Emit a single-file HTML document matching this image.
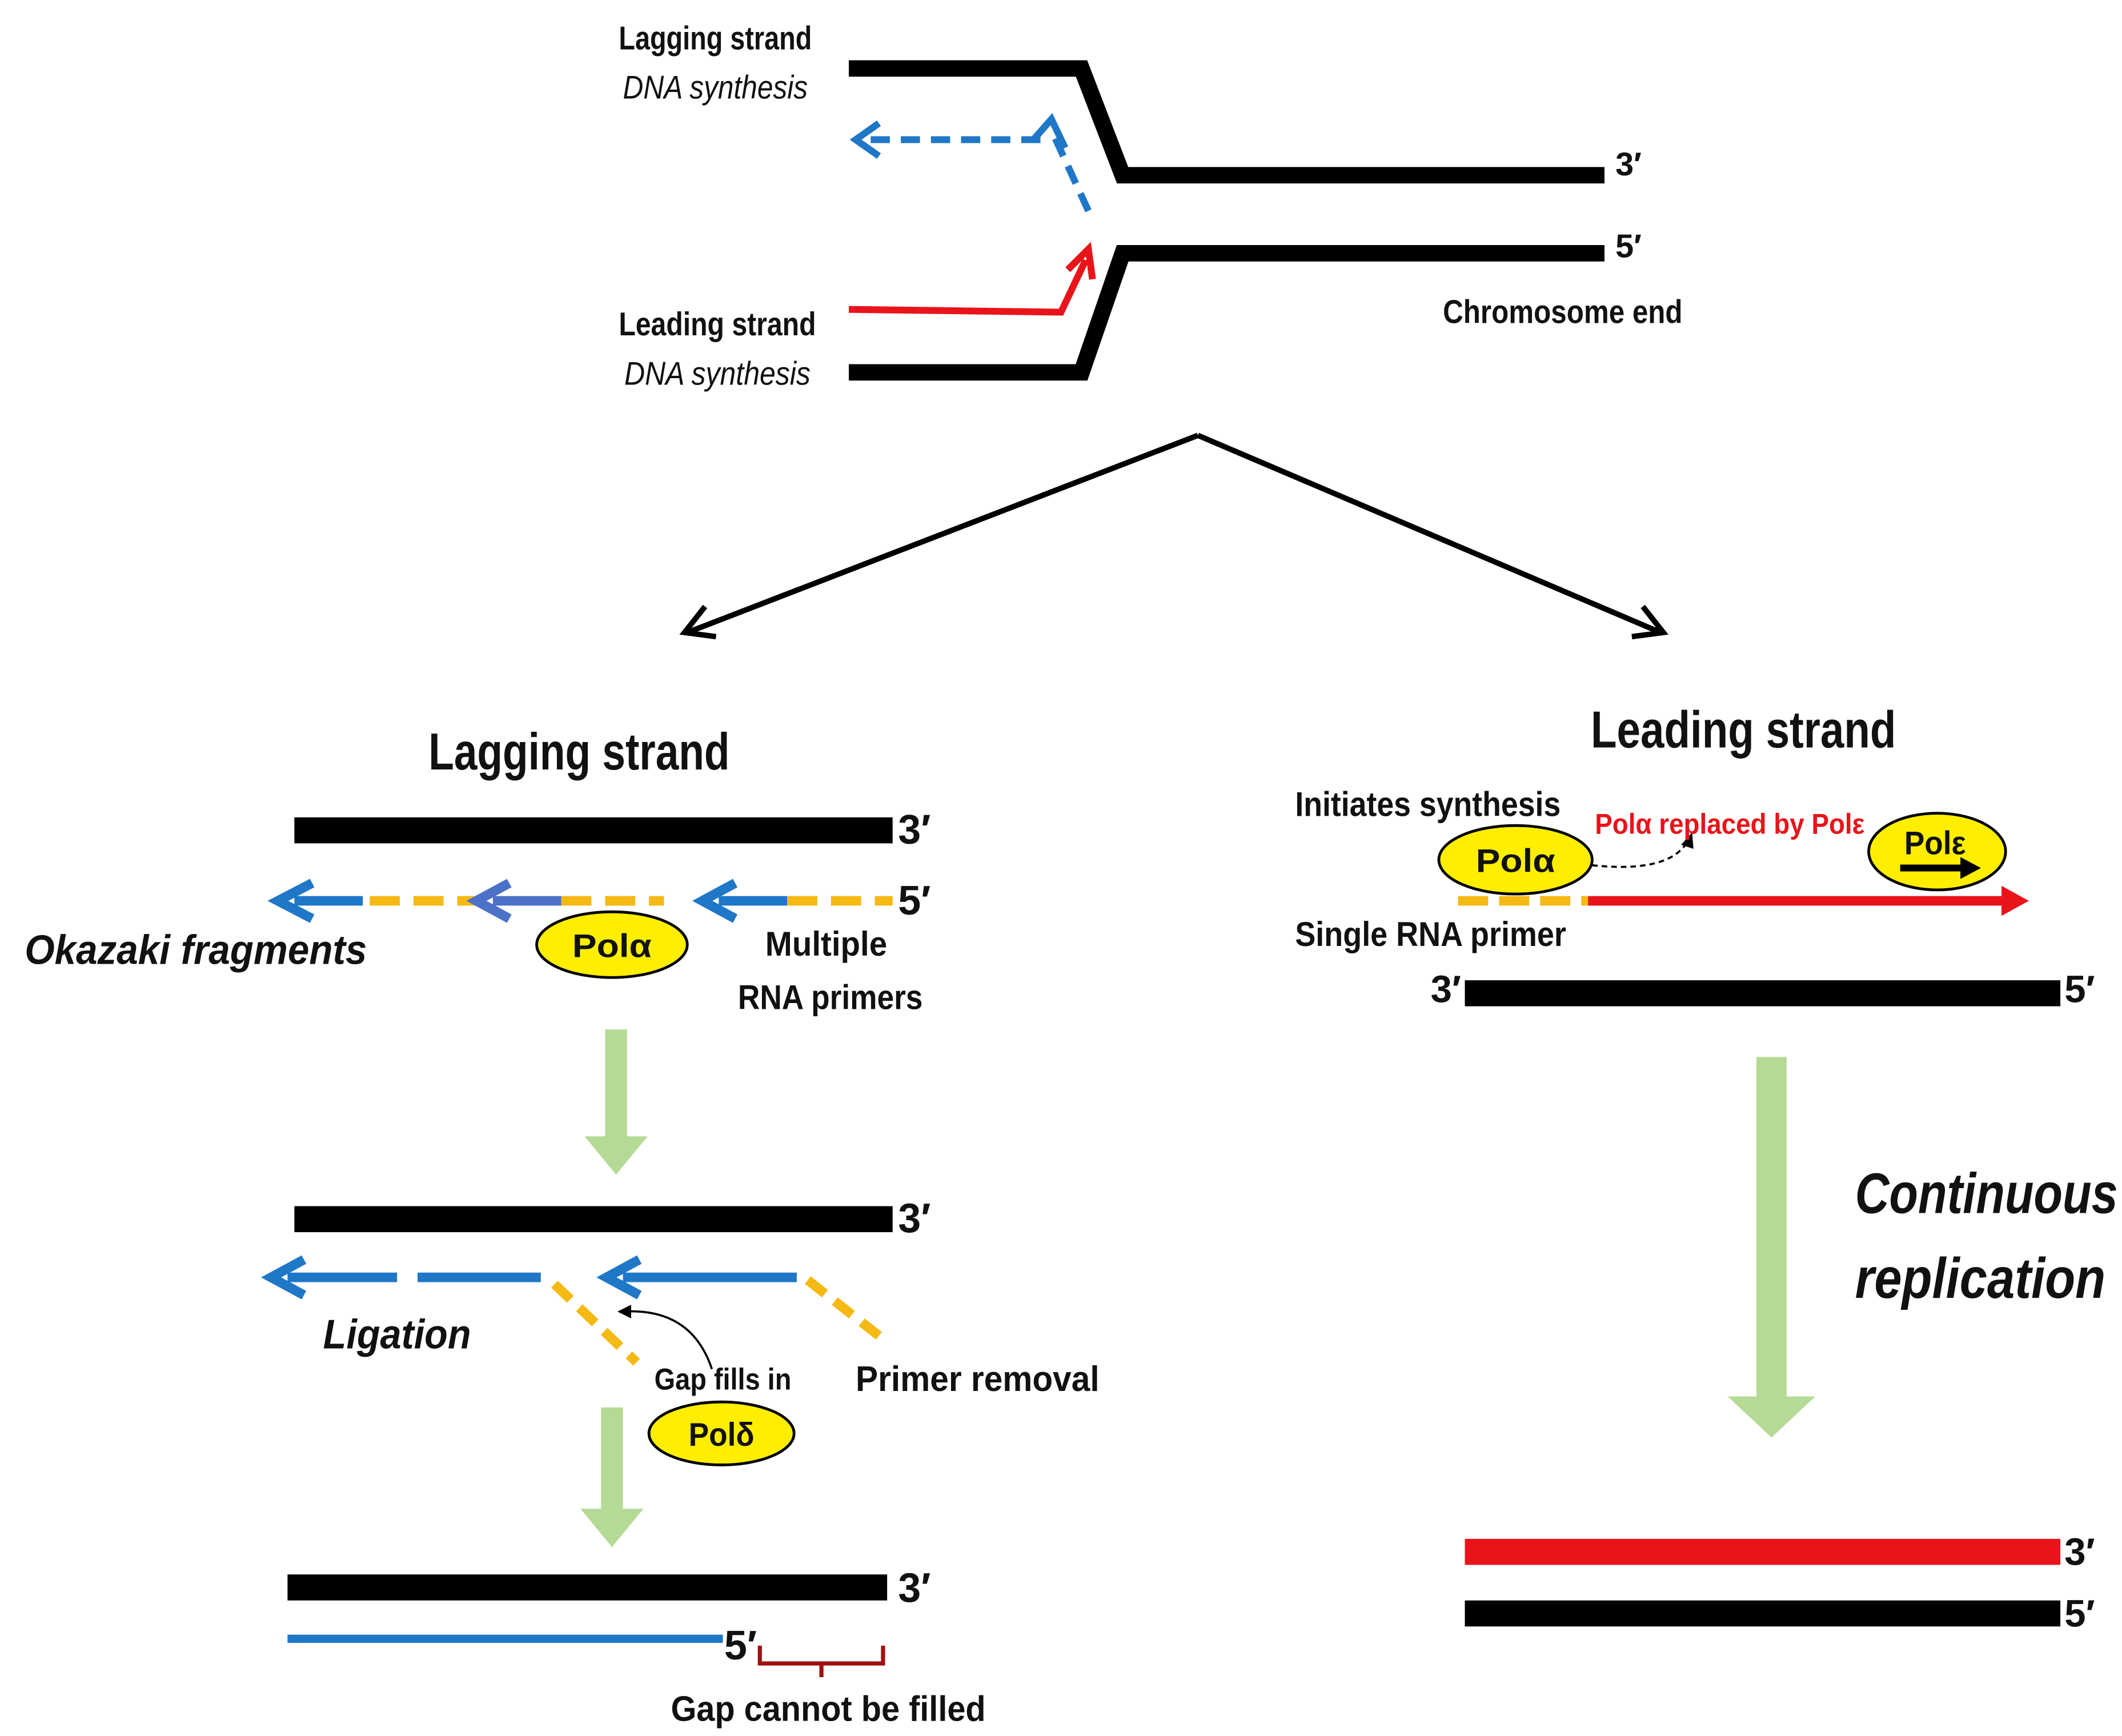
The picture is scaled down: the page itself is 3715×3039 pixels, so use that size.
<!DOCTYPE html>
<html><head><meta charset="utf-8">
<style>
html,body{margin:0;padding:0;background:#fff;}
svg{display:block;}
text{font-family:"Liberation Sans Narrow","Liberation Sans",sans-serif;font-weight:bold;fill:#111;}
.it{font-style:italic;}
</style></head>
<body>
<svg width="3715" height="3039" viewBox="0 0 1550 1268" xmlns="http://www.w3.org/2000/svg">
<rect width="1550" height="1268" fill="#fff"/>

<!-- Top fork -->
<polyline points="620,50 790,50 820,128 1172,128" fill="none" stroke="#000" stroke-width="12"/>
<polyline points="620,272 790,272 820,185 1172,185" fill="none" stroke="#000" stroke-width="12"/>
<path d="M795,154 L768,95" stroke="#1f77c8" stroke-width="5" stroke-dasharray="14,8" fill="none"/>
<path d="M754,103 L768,87 L778,108" stroke="#1f77c8" stroke-width="5" fill="none"/>
<path d="M760,102 L630,102" stroke="#1f77c8" stroke-width="5" stroke-dasharray="14,8" fill="none"/>
<path d="M642,90 L625,102 L642,114" stroke="#1f77c8" stroke-width="5" fill="none"/>
<polyline points="620,226 775,228 793,190" fill="none" stroke="#e8141a" stroke-width="5"/>
<path d="M780,197 L795,182 L798,204" stroke="#e8141a" stroke-width="5" fill="none"/>

<text x="452" y="36" font-size="24" textLength="141" lengthAdjust="spacingAndGlyphs">Lagging strand</text>
<text x="455" y="72" font-size="24" class="it" style="font-weight:normal" textLength="135" lengthAdjust="spacingAndGlyphs">DNA synthesis</text>
<text x="452" y="245" font-size="24" textLength="144" lengthAdjust="spacingAndGlyphs">Leading strand</text>
<text x="456" y="281" font-size="24" class="it" style="font-weight:normal" textLength="136" lengthAdjust="spacingAndGlyphs">DNA synthesis</text>
<text x="1180" y="128" font-size="24">3′</text>
<text x="1180" y="188" font-size="24">5′</text>
<text x="1054" y="236" font-size="24" textLength="175" lengthAdjust="spacingAndGlyphs">Chromosome end</text>

<path d="M875,318 L502,462 M875,318 L1213,462" stroke="#000" stroke-width="4" fill="none"/>
<path d="M515,443 L500,462 L523,465" stroke="#000" stroke-width="4" fill="none"/>
<path d="M1192,465 L1215,462 L1200,443" stroke="#000" stroke-width="4" fill="none"/>

<!-- Left: lagging -->
<text x="313" y="562" font-size="38" textLength="220" lengthAdjust="spacingAndGlyphs">Lagging strand</text>
<rect x="215" y="597" width="437" height="19" fill="#000"/>
<text x="656" y="616" font-size="30">3′</text>
<g stroke-width="7" fill="none">
<path d="M265,658 L215,658" stroke="#1f77c8"/>
<path d="M228,645 L203,658 L228,671" stroke="#1f77c8"/>
<path d="M270,658 L355,658" stroke="#f5b914" stroke-dasharray="22,10"/>
<path d="M410,658 L360,658" stroke="#4b72c8"/>
<path d="M372,645 L348,658 L372,671" stroke="#4b72c8"/>
<path d="M410,658 L485,658" stroke="#f5b914" stroke-dasharray="22,10"/>
<path d="M575,658 L525,658" stroke="#1f77c8"/>
<path d="M537,645 L513,658 L537,671" stroke="#1f77c8"/>
<path d="M575,658 L652,658" stroke="#f5b914" stroke-dasharray="22,10"/>
</g>
<text x="656" y="668" font-size="30">5′</text>
<ellipse cx="447" cy="690" rx="55" ry="24" fill="#ffee00" stroke="#000" stroke-width="2"/>
<text x="418" y="699" font-size="24" textLength="58" lengthAdjust="spacingAndGlyphs">Polα</text>
<text x="18" y="704" font-size="30" class="it" textLength="250" lengthAdjust="spacingAndGlyphs">Okazaki fragments</text>
<text x="559" y="698" font-size="25" textLength="89" lengthAdjust="spacingAndGlyphs">Multiple</text>
<text x="539" y="737" font-size="25" textLength="135" lengthAdjust="spacingAndGlyphs">RNA primers</text>
<path d="M442,752 h16 v78 h15 l-23,28 l-23,-28 h15 z" fill="#b5da95"/>

<rect x="215" y="881" width="437" height="19" fill="#000"/>
<text x="656" y="900" font-size="30">3′</text>
<g stroke-width="7" fill="none">
<path d="M290,933 L210,933" stroke="#1f77c8"/>
<path d="M222,920 L198,933 L222,946" stroke="#1f77c8"/>
<path d="M305,933 L395,933" stroke="#1f77c8"/>
<path d="M405,938 L465,995" stroke="#f5b914" stroke-dasharray="16,9"/>
<path d="M582,933 L455,933" stroke="#1f77c8"/>
<path d="M467,920 L443,933 L467,946" stroke="#1f77c8"/>
<path d="M590,935 L645,978" stroke="#f5b914" stroke-dasharray="16,9"/>
</g>
<text x="236" y="985" font-size="30" class="it" textLength="108" lengthAdjust="spacingAndGlyphs">Ligation</text>
<path d="M520,1000 Q505,955 455,958" stroke="#000" stroke-width="1.5" fill="none"/>
<path d="M461,953 L451,958 L461,963" fill="#000"/>
<text x="478" y="1015" font-size="22" textLength="100" lengthAdjust="spacingAndGlyphs">Gap fills in</text>
<ellipse cx="527" cy="1047" rx="53" ry="23" fill="#ffee00" stroke="#000" stroke-width="2"/>
<text x="503" y="1056" font-size="24" textLength="48" lengthAdjust="spacingAndGlyphs">Polδ</text>
<text x="625" y="1016" font-size="26" textLength="178" lengthAdjust="spacingAndGlyphs">Primer removal</text>
<path d="M439,1028 h16 v74 h15 l-23,28 l-23,-28 h15 z" fill="#b5da95"/>

<rect x="210" y="1150" width="438" height="19" fill="#000"/>
<text x="656" y="1170" font-size="30">3′</text>
<rect x="210" y="1194" width="318" height="6" fill="#1f77c8"/>
<text x="529" y="1212" font-size="30">5′</text>
<path d="M555,1202 V1215 H645 V1202 M600,1215 V1225" stroke="#a01010" stroke-width="3" fill="none"/>
<text x="490" y="1257" font-size="26" textLength="230" lengthAdjust="spacingAndGlyphs">Gap cannot be filled</text>

<!-- Right: leading -->
<text x="1162" y="546" font-size="38" textLength="223" lengthAdjust="spacingAndGlyphs">Leading strand</text>
<text x="946" y="596" font-size="25" textLength="194" lengthAdjust="spacingAndGlyphs">Initiates synthesis</text>
<ellipse cx="1107" cy="628" rx="56" ry="25" fill="#ffee00" stroke="#000" stroke-width="2"/>
<text x="1078" y="637" font-size="24" textLength="58" lengthAdjust="spacingAndGlyphs">Polα</text>
<path d="M1163,632 Q1220,638 1233,614" stroke="#000" stroke-width="1.5" stroke-dasharray="4,3" fill="none"/>
<path d="M1228,617 L1236,608 L1237,620 z" fill="#000"/>
<text x="1165" y="609" font-size="21" style="fill:#e8141a" textLength="197" lengthAdjust="spacingAndGlyphs">Polα replaced by Polε</text>
<ellipse cx="1415" cy="622" rx="50" ry="28" fill="#ffee00" stroke="#000" stroke-width="2"/>
<text x="1391" y="624" font-size="24" textLength="45" lengthAdjust="spacingAndGlyphs">Polε</text>
<path d="M1388,634 L1435,634" stroke="#000" stroke-width="5"/>
<path d="M1432,626 L1447,634 L1432,642 z" fill="#000"/>
<path d="M1065,658 L1160,658" stroke="#f5b914" stroke-width="7" stroke-dasharray="22,8"/>
<path d="M1160,658 L1465,658" stroke="#e8141a" stroke-width="7"/>
<path d="M1462,647 L1482,658 L1462,669 z" fill="#e8141a"/>
<text x="946" y="691" font-size="25" textLength="198" lengthAdjust="spacingAndGlyphs">Single RNA primer</text>
<text x="1045" y="732" font-size="28">3′</text>
<rect x="1070" y="716" width="435" height="19" fill="#000"/>
<text x="1508" y="732" font-size="28">5′</text>
<path d="M1283,772 h22 v248 h21 l-32,30 l-32,-30 h21 z" fill="#b5da95"/>
<text x="1355" y="886" font-size="42" class="it" textLength="192" lengthAdjust="spacingAndGlyphs">Continuous</text>
<text x="1355" y="948" font-size="42" class="it" textLength="183" lengthAdjust="spacingAndGlyphs">replication</text>
<rect x="1070" y="1124" width="435" height="19" fill="#e8141a"/>
<text x="1508" y="1143" font-size="28">3′</text>
<rect x="1070" y="1169" width="435" height="19" fill="#000"/>
<text x="1508" y="1188" font-size="28">5′</text>
</svg>
</body></html>
